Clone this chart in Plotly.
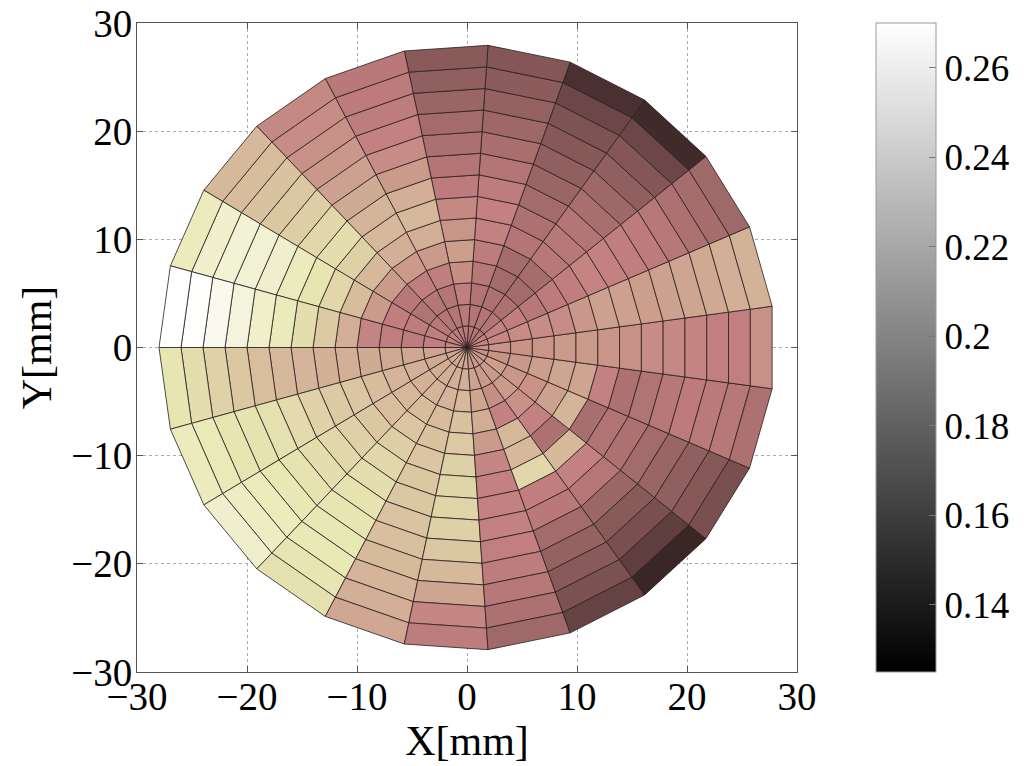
import numpy as np
import plotly.graph_objects as go
from plotly.colors import sample_colorscale

# ---------------- data ----------------
radius_edges_mm = [0, 2, 4, 6, 8, 10, 12, 14, 16, 18, 20, 22, 24, 26, 28]
angle_edges_deg = [-180.00, -164.35, -148.70, -133.04, -117.39, -101.74, -86.09,
                   -70.43, -54.78, -39.13, -23.48, -7.83, 7.83, 23.48, 39.13,
                   54.78, 70.43, 86.09, 101.74, 117.39, 133.04, 148.70, 164.35, 180.00]

# values per angular sector (inner ring -> outer ring)
sector_00 = [0.192, 0.194, 0.196, 0.197, 0.198, 0.200, 0.201, 0.203, 0.205, 0.208, 0.213, 0.219, 0.226, 0.232]
sector_01 = [0.196, 0.198, 0.200, 0.203, 0.207, 0.212, 0.215, 0.220, 0.225, 0.228, 0.230, 0.232, 0.235, 0.238]
sector_02 = [0.198, 0.199, 0.201, 0.204, 0.208, 0.213, 0.218, 0.222, 0.226, 0.230, 0.233, 0.237, 0.240, 0.244]
sector_03 = [0.198, 0.200, 0.203, 0.207, 0.212, 0.217, 0.222, 0.227, 0.230, 0.232, 0.233, 0.234, 0.232, 0.228]
sector_04 = [0.198, 0.200, 0.203, 0.207, 0.210, 0.212, 0.213, 0.213, 0.211, 0.209, 0.206, 0.203, 0.200, 0.196]
sector_05 = [0.196, 0.200, 0.205, 0.210, 0.214, 0.218, 0.221, 0.221, 0.218, 0.213, 0.205, 0.195, 0.182, 0.177]
sector_06 = [0.190, 0.193, 0.195, 0.199, 0.190, 0.182, 0.180, 0.180, 0.180, 0.179, 0.177, 0.173, 0.168, 0.162]
sector_07 = [0.190, 0.190, 0.185, 0.180, 0.204, 0.205, 0.222, 0.178, 0.174, 0.163, 0.157, 0.152, 0.147, 0.140]
sector_08 = [0.190, 0.190, 0.190, 0.186, 0.180, 0.168, 0.205, 0.180, 0.172, 0.160, 0.152, 0.146, 0.138, 0.130]
sector_09 = [0.190, 0.192, 0.189, 0.187, 0.193, 0.203, 0.166, 0.170, 0.168, 0.163, 0.159, 0.155, 0.151, 0.146]
sector_10 = [0.187, 0.187, 0.189, 0.192, 0.195, 0.195, 0.180, 0.168, 0.170, 0.173, 0.176, 0.175, 0.173, 0.168]
sector_11 = [0.188, 0.188, 0.187, 0.188, 0.190, 0.190, 0.188, 0.186, 0.184, 0.183, 0.181, 0.179, 0.179, 0.186]
sector_12 = [0.183, 0.183, 0.184, 0.184, 0.184, 0.189, 0.193, 0.193, 0.192, 0.193, 0.195, 0.197, 0.200, 0.202]
sector_13 = [0.180, 0.180, 0.178, 0.173, 0.176, 0.178, 0.181, 0.180, 0.178, 0.176, 0.173, 0.168, 0.165, 0.162]
sector_14 = [0.172, 0.171, 0.168, 0.163, 0.165, 0.173, 0.173, 0.171, 0.166, 0.161, 0.155, 0.150, 0.142, 0.131]
sector_15 = [0.172, 0.171, 0.168, 0.163, 0.164, 0.171, 0.168, 0.163, 0.159, 0.155, 0.151, 0.148, 0.142, 0.133]
sector_16 = [0.172, 0.171, 0.170, 0.173, 0.177, 0.180, 0.180, 0.177, 0.171, 0.166, 0.161, 0.157, 0.153, 0.150]
sector_17 = [0.175, 0.175, 0.178, 0.185, 0.192, 0.188, 0.183, 0.176, 0.171, 0.167, 0.163, 0.159, 0.155, 0.152]
sector_18 = [0.175, 0.172, 0.172, 0.178, 0.190, 0.200, 0.205, 0.200, 0.190, 0.184, 0.180, 0.177, 0.176, 0.174]
sector_19 = [0.176, 0.172, 0.172, 0.178, 0.190, 0.200, 0.205, 0.203, 0.198, 0.193, 0.189, 0.186, 0.184, 0.183]
sector_20 = [0.180, 0.173, 0.170, 0.173, 0.190, 0.205, 0.218, 0.226, 0.222, 0.217, 0.213, 0.210, 0.207, 0.205]
sector_21 = [0.180, 0.178, 0.177, 0.178, 0.190, 0.207, 0.222, 0.232, 0.238, 0.244, 0.247, 0.248, 0.245, 0.238]
sector_22 = [0.180, 0.178, 0.177, 0.178, 0.181, 0.200, 0.215, 0.226, 0.236, 0.243, 0.252, 0.260, 0.268, 0.270]

sector_values = [sector_00, sector_01, sector_02, sector_03, sector_04, sector_05,
                 sector_06, sector_07, sector_08, sector_09, sector_10, sector_11,
                 sector_12, sector_13, sector_14, sector_15, sector_16, sector_17,
                 sector_18, sector_19, sector_20, sector_21, sector_22]

color_min, color_max = 0.125, 0.27
axis_ticks = [-30, -20, -10, 0, 10, 20, 30]
colorbar_ticks = [0.14, 0.16, 0.18, 0.20, 0.22, 0.24, 0.26]
colorbar_ticktext = ["0.14", "0.16", "0.18", "0.2", "0.22", "0.24", "0.26"]


# ---------------- colormaps ----------------
def pink_colorscale(n=64):
    t = np.linspace(0, 1, n)
    r_hot = np.clip(t / 0.375, 0, 1)
    g_hot = np.clip((t - 0.375) / 0.375, 0, 1)
    b_hot = np.clip((t - 0.75) / 0.25, 0, 1)
    R = np.sqrt((2 * t + r_hot) / 3)
    G = np.sqrt((2 * t + g_hot) / 3)
    B = np.sqrt((2 * t + b_hot) / 3)
    return [[float(ti), "rgb(%d,%d,%d)" % (round(r * 255), round(g * 255), round(b * 255))]
            for ti, r, g, b in zip(t, R, G, B)]


pink = pink_colorscale()
gray = [[0, "rgb(0,0,0)"], [1, "rgb(255,255,255)"]]

FONT = "Liberation Serif, Times New Roman, serif"
TICK_SIZE = 39
CB_TICK_SIZE = 37
TITLE_SIZE = 42

fig = go.Figure()

for k, values in enumerate(sector_values):
    th0 = np.radians(angle_edges_deg[k])
    th1 = np.radians(angle_edges_deg[k + 1])
    for j, v in enumerate(values):
        r0, r1 = radius_edges_mm[j], radius_edges_mm[j + 1]
        xs = [r0 * np.cos(th0), r1 * np.cos(th0), r1 * np.cos(th1), r0 * np.cos(th1), r0 * np.cos(th0)]
        ys = [r0 * np.sin(th0), r1 * np.sin(th0), r1 * np.sin(th1), r0 * np.sin(th1), r0 * np.sin(th0)]
        frac = min(max((v - color_min) / (color_max - color_min), 0), 1)
        col = sample_colorscale(pink, [frac])[0]
        fig.add_trace(go.Scatter(
            x=xs, y=ys, mode="lines", fill="toself", fillcolor=col,
            line=dict(color="#2b1d1d", width=0.8),
            hoverinfo="skip", showlegend=False))

# colorbar carrier
fig.add_trace(go.Scatter(
    x=[0], y=[0], mode="markers", hoverinfo="skip", showlegend=False,
    marker=dict(size=0.1, opacity=0, color=[0.2], colorscale=gray,
                cmin=color_min, cmax=color_max, showscale=True,
                colorbar=dict(x=1.12, xanchor="left", y=0.5, yanchor="middle",
                              len=1.0, lenmode="fraction",
                              thickness=60, thicknessmode="pixels",
                              outlinecolor="#999", outlinewidth=1,
                              tickvals=colorbar_ticks, ticktext=colorbar_ticktext,
                              ticks="inside", ticklen=7, tickcolor="#777",
                              tickfont=dict(family=FONT, size=CB_TICK_SIZE, color="black"),
                              xpad=0, ypad=0))))

axis_common = dict(
    range=[-30, 30], tickvals=axis_ticks, automargin=False,
    showgrid=True, gridcolor="#aaaaaa", griddash="dot", gridwidth=1,
    zeroline=False, showline=True, linecolor="#555", linewidth=1, mirror="ticks",
    ticks="inside", ticklen=6, tickcolor="#555",
    tickfont=dict(family=FONT, size=TICK_SIZE, color="black"),
)

fig.update_layout(
    width=1029, height=766,
    margin=dict(l=137, r=232, t=23, b=94),
    paper_bgcolor="white", plot_bgcolor="white",
    xaxis=dict(**axis_common, ticklabelstandoff=-10,
               title=dict(text="X[mm]", font=dict(family=FONT, size=TITLE_SIZE, color="black"), standoff=0)),
    yaxis=dict(**axis_common, ticklabelstandoff=-4,
               title=dict(text="Y[mm]", font=dict(family=FONT, size=TITLE_SIZE, color="black"), standoff=6)),
)

fig.write_html("out.html")
